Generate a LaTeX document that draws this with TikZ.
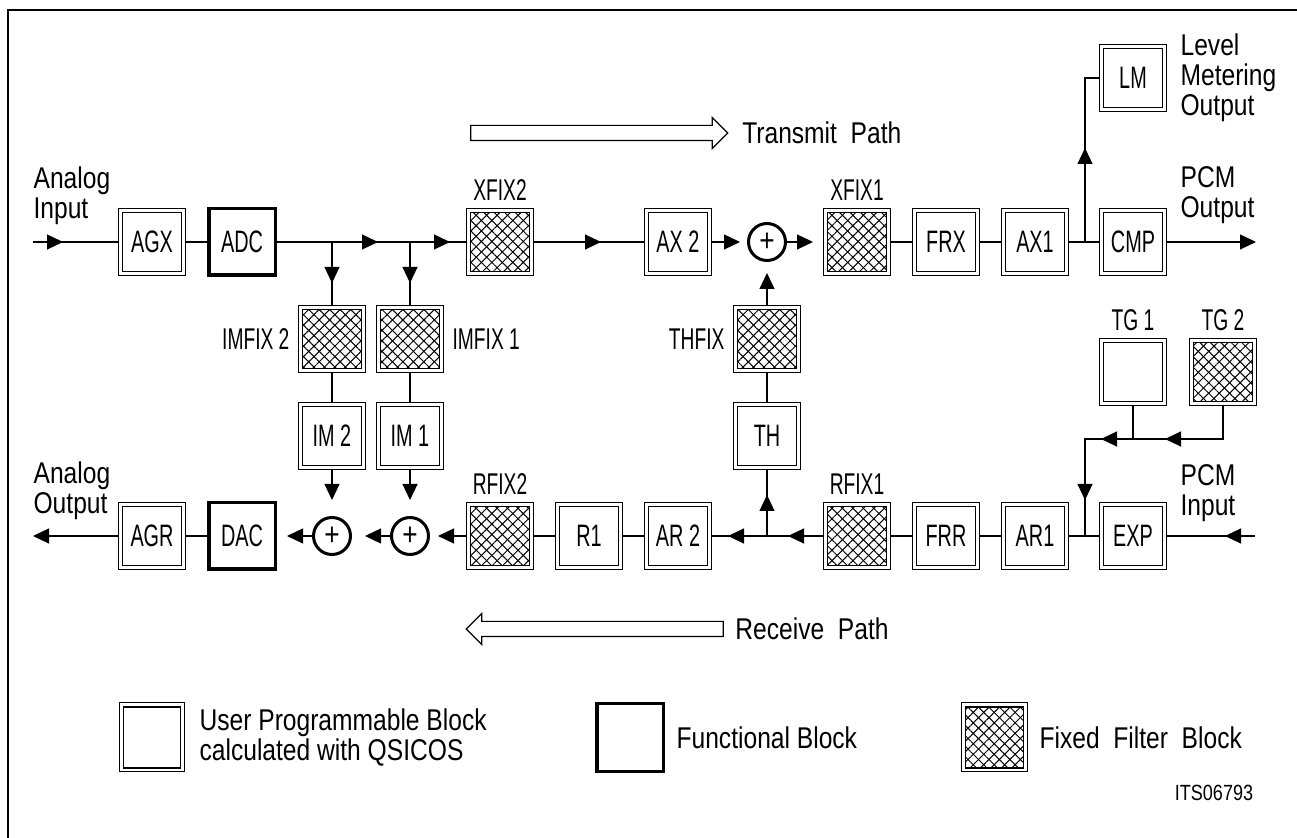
\documentclass[tikz,border=0pt]{standalone}
\usepackage{fontspec}
\setmainfont{Liberation Sans}[FakeStretch=0.82]
\newfontfamily\blockfont{Liberation Sans}[FakeStretch=0.64]
\usetikzlibrary{positioning, arrows.meta, shapes.arrows, patterns.meta}

\tikzset{
  box/.style={draw, line width=0.5pt, minimum size=33.5pt, inner sep=0pt,
    font=\blockfont\fontsize{15.5}{16}\selectfont},
  prog/.style={box, path picture={
    \draw[line width=0.8pt] ([shift={(2pt,2pt)}]path picture bounding box.south west)
      rectangle ([shift={(-2pt,-2pt)}]path picture bounding box.north east);}},
  fixed/.style={box, path picture={
    \fill[pattern={Lines[angle=45,distance=3.7pt,line width=0.5pt]}]
      ([shift={(2pt,2pt)}]path picture bounding box.south west)
      rectangle ([shift={(-2pt,-2pt)}]path picture bounding box.north east);
    \fill[pattern={Lines[angle=-45,distance=3.7pt,line width=0.5pt]}]
      ([shift={(2pt,2pt)}]path picture bounding box.south west)
      rectangle ([shift={(-2pt,-2pt)}]path picture bounding box.north east);
    \draw[line width=0.8pt] ([shift={(2pt,2pt)}]path picture bounding box.south west)
      rectangle ([shift={(-2pt,-2pt)}]path picture bounding box.north east);}},
  func/.style={draw, line width=1.75pt, minimum size=33.25pt, inner sep=0pt,
    font=\blockfont\fontsize{15.5}{16}\selectfont},
  sum/.style={circle, draw, line width=1.5pt, minimum size=18.5pt, inner sep=0pt,
    font=\fontsize{16}{16}\selectfont},
  tip/.style={-{Triangle[length=8pt,width=7.5pt]}},
  tag/.style={inner sep=0pt, font=\blockfont\fontsize{15}{15}\selectfont},
  txt/.style={inner sep=0pt, align=left, font=\fontsize{15}{15}\selectfont},
  patharrow/.style={single arrow, draw, line width=0.6pt, inner sep=3.5pt,
    text height=0pt, text depth=0pt, minimum height=128.5pt, single arrow head extend=4pt},
}

\begin{document}
\begin{tikzpicture}[node distance=48.5pt and 44.5pt, on grid, line width=0.6pt]
  \useasboundingbox (0,0) rectangle (648.5pt,-419pt);
  \draw[line width=1pt] (3.75pt,-419pt) -- (3.75pt,-5pt) -- (648.5pt,-5pt);

  % transmit path
  \node[prog] (agx) at (76pt,-121pt) {AGX};
  \node[func, right=45pt of agx] (adc) {ADC};
  \coordinate[right=45pt of adc] (j1);
  \coordinate[right=39pt of j1] (j2);
  \node[fixed, right=45pt of j2, anchor=center] (xfix2) {};
  \node[prog, right=89pt of xfix2] (ax2) {AX 2};
  \node[sum, right=44.5pt of ax2] (sumx) {+};
  \node[fixed, right=45pt of sumx] (xfix1) {};
  \node[prog, right=of xfix1] (frx) {FRX};
  \node[prog, right=of frx] (ax1) {AX1};
  \coordinate[right=25pt of ax1] (jlm);
  \node[prog, right=24pt of jlm, anchor=center] (cmp) {CMP};
  \node[prog, above=82pt of cmp] (lm) {LM};
  \node[fixed, below=of j1, anchor=center] (imfix2) {};
  \node[prog, below=of imfix2] (im2) {IM 2};
  \node[fixed, below=of j2, anchor=center] (imfix1) {};
  \node[prog, below=of imfix1] (im1) {IM 1};
  \node[fixed, below=of sumx] (thfix) {};
  \node[prog, below=of thfix] (th) {TH};

  % receive path
  \node[prog, below=147pt of agx] (agr) {AGR};
  \node[func, below=147pt of adc] (dac) {DAC};
  \node[sum, below=147pt of j1, anchor=center] (sumb2) {+};
  \node[sum, below=147pt of j2, anchor=center] (sumb1) {+};
  \node[fixed, below=147pt of xfix2] (rfix2) {};
  \node[prog, right=of rfix2] (r1) {R1};
  \node[prog, below=147pt of ax2] (ar2) {AR 2};
  \coordinate[below=147pt of sumx] (jth);
  \node[fixed, below=147pt of xfix1] (rfix1) {};
  \node[prog, below=147pt of frx] (frr) {FRR};
  \node[prog, below=147pt of ax1] (ar1) {AR1};
  \coordinate[below=147pt of jlm] (jexp);
  \node[prog, below=147pt of cmp] (exp) {EXP};
  \node[prog, above=82pt of exp] (tg1) {};
  \node[fixed, right=45pt of tg1] (tg2) {};
  \coordinate[below=16.5pt of tg2.south] (tgb);

  % labels
  \node[tag, above=3.5pt of xfix2.north, anchor=south] {XFIX2};
  \node[tag, above=3.5pt of xfix1.north, anchor=south] {XFIX1};
  \node[tag, above=3.5pt of rfix2.north, anchor=south] {RFIX2};
  \node[tag, above=3.5pt of rfix1.north, anchor=south] {RFIX1};
  \node[tag, above=3.5pt of tg1.north, anchor=south] {TG 1};
  \node[tag, above=3.5pt of tg2.north, anchor=south] {TG 2};
  \node[tag, left=4pt of imfix2.west, anchor=east] {IMFIX 2};
  \node[tag, right=4pt of imfix1.east, anchor=west] {IMFIX 1};
  \node[tag, left=4pt of thfix.west, anchor=east] {THFIX};

  \coordinate[left=42.5pt of agx.west] (ain);
  \coordinate[left=42.5pt of agr.west] (aout);
  \coordinate[right=44.5pt of cmp.east] (pcmout);
  \coordinate[right=44pt of exp.east] (pcmin);
  \node[txt, above=8.5pt of ain, anchor=south west] {Analog\\Input};
  \node[txt, above=8pt of aout, anchor=south west] {Analog\\Output};
  \node[txt, above right=9pt and 6.5pt of cmp.east, anchor=south west] {PCM\\Output};
  \node[txt, above right=7pt and 6.5pt of exp.east, anchor=south west] {PCM\\Input};
  \node[txt, right=6.5pt of lm.east, anchor=west] {Level\\Metering\\Output};

  \node[patharrow, above right=54.5pt and 47.75pt of xfix2] (tx) {};
  \node[txt, right=6.5pt of tx.east, anchor=west] {Transmit\ \ Path};
  \node[patharrow, shape border rotate=180, below right=46.5pt and 49.25pt of rfix2] (rx) {};
  \node[txt, right=5.5pt of rx.east, anchor=west] {Receive\ \ Path};

  % connections
  \foreach \from/\to in {agx/adc, adc/xfix2, xfix2/ax2, xfix1/frx, frx/ax1, ax1/cmp,
      j1/imfix2, j2/imfix1, imfix2/im2, imfix1/im1, th/thfix, jth/th,
      agr/dac, rfix2/r1, r1/ar2, ar2/rfix1, rfix1/frr, frr/ar1, ar1/exp, exp/pcmin, ain/agx}
    \draw (\from) -- (\to);
  \draw (jlm) |- (lm);
  \draw (tg2) -- (tgb) -| (jexp);
  \draw (tg1) -- (tg1 |- tgb);

  % arrow heads
  \draw[tip] (ain) -- ++(15pt,0);
  \draw[tip] (j1) -- ++(23pt,0);
  \draw[tip] (j2) -- ++(20pt,0);
  \draw[tip] (j1) -- ++(0,-20.5pt);
  \draw[tip] (j2) -- ++(0,-20.5pt);
  \draw[tip] (xfix2.east) -- ++(33.5pt,0);
  \draw[tip, shorten >=3.5pt] (ax2) -- (sumx);
  \draw[tip, shorten >=5pt] (sumx) -- (xfix1);
  \draw[tip, shorten >=5.5pt] (thfix) -- (sumx);
  \draw[tip] (jlm) -- ++(0,47pt);
  \draw[tip] (cmp) -- (pcmout);
  \draw[tip] (pcmin) -- ++(-15pt,0);
  \draw[tip] (tgb) -- ++(-29pt,0);
  \draw[tip] (tg1 |- tgb) -- ++(-16pt,0);
  \draw[tip] (jexp |- tgb) -- ++(0,-30.5pt);
  \draw[tip] (rfix1.west) -- ++(-17.5pt,0);
  \draw[tip] (jth) -- ++(-19.5pt,0);
  \draw[tip] (jth) -- ++(0,20.5pt);
  \draw[tip, shorten >=4pt] (rfix2) -- (sumb1);
  \draw[tip, shorten >=6.5pt] (sumb1) -- (sumb2);
  \draw[tip, shorten >=5pt] (sumb2) -- (dac);
  \draw[tip, shorten >=8pt] (im2) -- (sumb2);
  \draw[tip, shorten >=8pt] (im1) -- (sumb1);
  \draw[tip] (agr) -- (aout);

  % legend
  \node[prog, minimum height=34.5pt, minimum width=32.5pt, below=100.75pt of agr] (leg1) {};
  \node[txt, right=7pt of leg1.east, anchor=west] {User Programmable Block\\calculated with QSICOS};
  \node[func, minimum height=34pt, right=239pt of leg1] (leg2) {};
  \node[txt, right=5.5pt of leg2.east, anchor=west] {Functional Block};
  \node[fixed, minimum height=34.5pt, minimum width=33pt, right=182.25pt of leg2] (leg3) {};
  \node[txt, right=5.5pt of leg3.east, anchor=west] {Fixed\ \ Filter\ \ Block};
  \node[txt, font=\fontsize{11}{11}\selectfont, below right=128.5pt and 40.5pt of exp] {ITS06793};
\end{tikzpicture}
\end{document}
